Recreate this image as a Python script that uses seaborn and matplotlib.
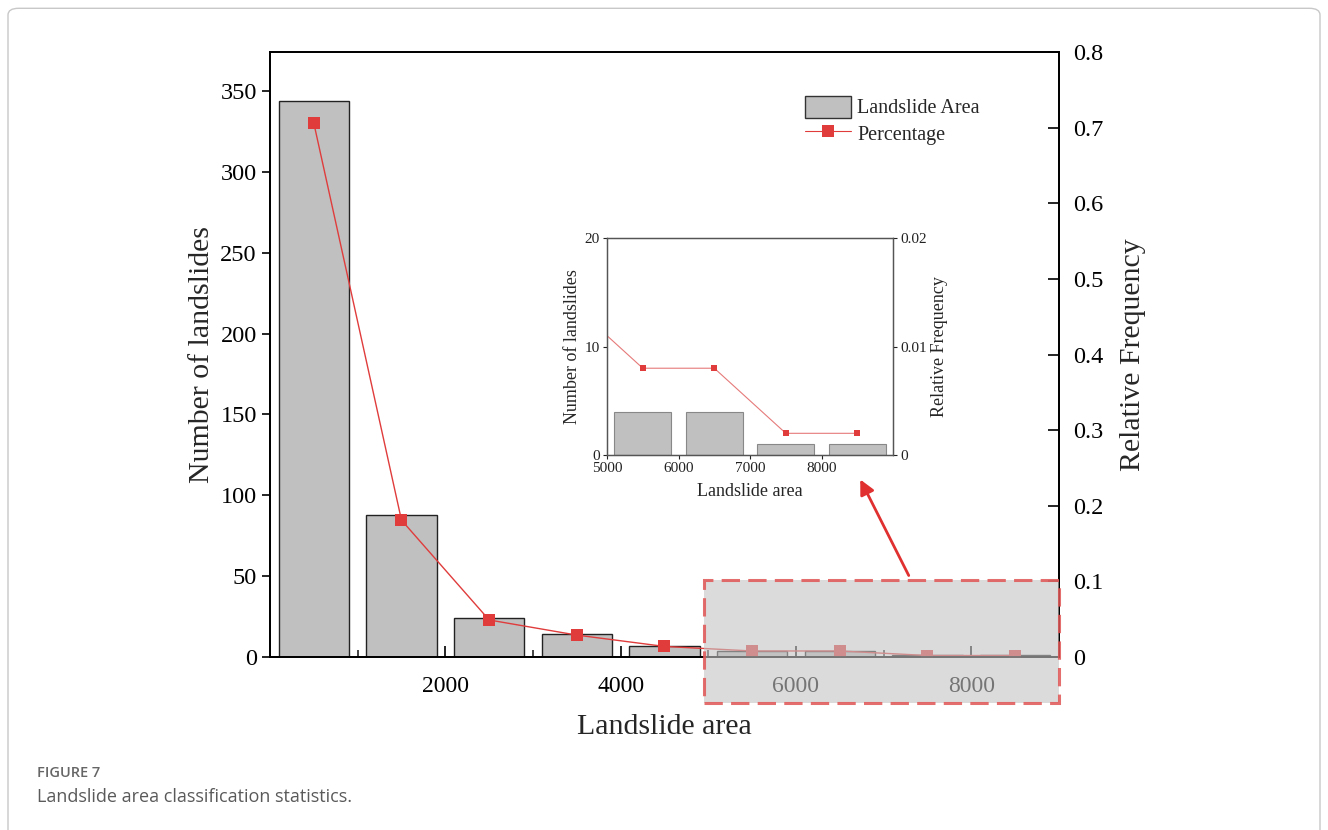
import numpy as np
import pandas as pd
import seaborn as sns
import matplotlib
matplotlib.use("Agg")
import matplotlib.pyplot as plt
from matplotlib.patches import Rectangle, FancyBboxPatch, FancyArrowPatch, Patch
from matplotlib.lines import Line2D
from matplotlib.ticker import FixedLocator

# Landslide area classes (bin centres, m^2), counts and relative frequency
bin_centers = [500, 1500, 2500, 3500, 4500, 5500, 6500, 7500, 8500]
counts = [344, 88, 24, 14, 7, 4, 4, 1, 1]
rel_freq = [0.706, 0.181, 0.049, 0.029, 0.014, 0.008, 0.008, 0.002, 0.002]

count_ticks = [0, 50, 100, 150, 200, 250, 300, 350]
freq_ticks = [0, 0.1, 0.2, 0.3, 0.4, 0.5, 0.6, 0.7, 0.8]
freq_labels = ["0", "0.1", "0.2", "0.3", "0.4", "0.5", "0.6", "0.7", "0.8"]
area_ticks = [2000, 4000, 6000, 8000]
inset_area_ticks = [5000, 6000, 7000, 8000]
inset_count_ticks = [0, 10, 20]
inset_freq_ticks = [0, 0.01, 0.02]
inset_freq_labels = ["0", "0.01", "0.02"]

df = pd.DataFrame({"area": bin_centers, "count": counts, "freq": rel_freq})

sns.set_theme(style="white")
plt.rcParams["font.family"] = ["Liberation Serif", "DejaVu Serif"]

BAR_FACE = "#c0c0c0"
RED = "#e03c3c"

fig = plt.figure(figsize=(13.28, 8.3), dpi=100)

# outer frame of the figure panel
fig.patches.append(FancyBboxPatch((8 / 1328, -0.05), 1312 / 1328, 1.04,
                                  boxstyle="round,pad=0,rounding_size=0.008",
                                  transform=fig.transFigure, facecolor="none",
                                  edgecolor="#c8c8c8", linewidth=1.0))

# ---------------- main chart ----------------
ax = fig.add_axes([0.2033, 0.2084, 0.5941, 0.7289])
sns.barplot(data=df, x="area", y="count", native_scale=True, width=0.8,
            color=BAR_FACE, saturation=1, edgecolor="#222222", linewidth=1.0, ax=ax)
ax.set_xlim(0, 9000)
ax.set_ylim(0, 374)
ax.set_yticks(count_ticks)
ax.set_xticks(area_ticks)
ax.xaxis.set_minor_locator(FixedLocator([1000, 3000, 5000, 7000]))
ax.tick_params(axis="x", which="major", direction="in", length=8, width=1.2,
               labelsize=17, pad=14, colors="black", bottom=True)
ax.tick_params(axis="x", which="minor", direction="in", length=5, width=1.2, bottom=True)
ax.tick_params(axis="y", direction="out", length=6, width=1.2, labelsize=17.5,
               left=True, colors="black")
ax.set_xlabel("Landslide area", fontsize=21.5, labelpad=12)
ax.set_ylabel("Number of landslides", fontsize=21.5, labelpad=4)
for s in ax.spines.values():
    s.set_color("black")
    s.set_linewidth(1.3)

ax2 = ax.twinx()
sns.lineplot(data=df, x="area", y="freq", marker="s", color=RED, linewidth=1.0,
             markersize=9, markeredgewidth=0, legend=False, ax=ax2)
ax2.set_ylim(0, 0.8)
ax2.set_yticks(freq_ticks)
ax2.set_yticklabels(freq_labels)
ax2.tick_params(axis="y", direction="in", length=8, width=1.2, labelsize=17.5,
                right=True, colors="black", pad=10)
ax2.set_ylabel("Relative Frequency", fontsize=21.5, labelpad=12)
for s in ax2.spines.values():
    s.set_color("black")
    s.set_linewidth(1.3)

handles = [Patch(facecolor=BAR_FACE, edgecolor="#333333", linewidth=1.0),
           Line2D([], [], color=RED, linewidth=0.8, marker="s", markersize=9,
                  markeredgewidth=0)]
ax2.legend(handles, ["Landslide Area", "Percentage"], loc="upper left",
           bbox_to_anchor=(0.655, 0.958), frameon=False, fontsize=14.5,
           handlelength=2.3, handleheight=1.3, handletextpad=0.3, labelspacing=0.2)

# highlighted region of the long tail
ax2.add_patch(Rectangle((4950, -0.061), 4050, 0.163, facecolor="#c4c4c4", alpha=0.6,
                        edgecolor="none", clip_on=False, zorder=6))
ax2.add_patch(Rectangle((4950, -0.061), 4050, 0.163, facecolor="none",
                        edgecolor="#e05555", alpha=0.85, linewidth=2.2,
                        linestyle=(0, (6, 2.7)), clip_on=False, zorder=7))

fig.add_artist(FancyArrowPatch(
    (910 / 1328, 1 - 578 / 830), (859 / 1328, 1 - 477 / 830),
    transform=fig.transFigure, arrowstyle="-|>", mutation_scale=22,
    color="#e03030", linewidth=2.0))

# ---------------- inset: long tail ----------------
axin = fig.add_axes([0.4571, 0.4518, 0.2154, 0.2614])
axin.set_facecolor("white")
sns.barplot(data=df, x="area", y="count", native_scale=True, width=0.8,
            color=BAR_FACE, saturation=1, edgecolor="#888888", linewidth=0.8, ax=axin)
axin.set_xlim(5000, 9000)
axin.set_ylim(0, 20)
axin.set_xticks(inset_area_ticks)
axin.set_yticks(inset_count_ticks)
axin.xaxis.set_minor_locator(FixedLocator([5500, 6500, 7500, 8500]))
axin.tick_params(axis="x", which="major", direction="out", length=3, width=0.8,
                 labelsize=11, pad=2, colors="#222222", bottom=True)
axin.tick_params(axis="x", which="minor", direction="in", length=3, width=0.8, bottom=True,
                 colors="#555555")
axin.tick_params(axis="y", direction="out", length=3, width=0.8, labelsize=11, pad=2,
                 colors="#222222", left=True)
axin.set_xlabel("Landslide area", fontsize=13, labelpad=6)
axin.set_ylabel("Number of landslides", fontsize=13, labelpad=3)
for s in axin.spines.values():
    s.set_color("#555555")
    s.set_linewidth(0.9)

axin2 = axin.twinx()
sns.lineplot(data=df, x="area", y="freq", marker="s", color="#e67a7a", linewidth=0.8,
             markersize=4, markeredgewidth=0, markerfacecolor="#e03c3c",
             legend=False, ax=axin2)
axin2.set_xlim(5000, 9000)
axin2.set_ylim(0, 0.02)
axin2.set_yticks(inset_freq_ticks)
axin2.set_yticklabels(inset_freq_labels)
axin2.tick_params(axis="y", direction="out", length=3, width=0.8, labelsize=11, pad=2,
                  colors="#222222", right=True)
axin2.set_ylabel("Relative Frequency", fontsize=13, labelpad=3)
axin2.set_xlabel("")
for s in axin2.spines.values():
    s.set_color("#555555")
    s.set_linewidth(0.9)

# ---------------- caption ----------------
fig.text(37 / 1328, 1 - 773 / 830, "FIGURE 7", family=["Open Sans", "DejaVu Sans"],
         fontsize=10.5, fontweight="semibold", color="#666666", va="center", ha="left")
fig.text(37 / 1328, 1 - 797 / 830, "Landslide area classification statistics.",
         family=["Open Sans", "DejaVu Sans"], fontsize=13, color="#5a5a5a",
         va="center", ha="left")

fig.savefig("out.png", dpi=100)
